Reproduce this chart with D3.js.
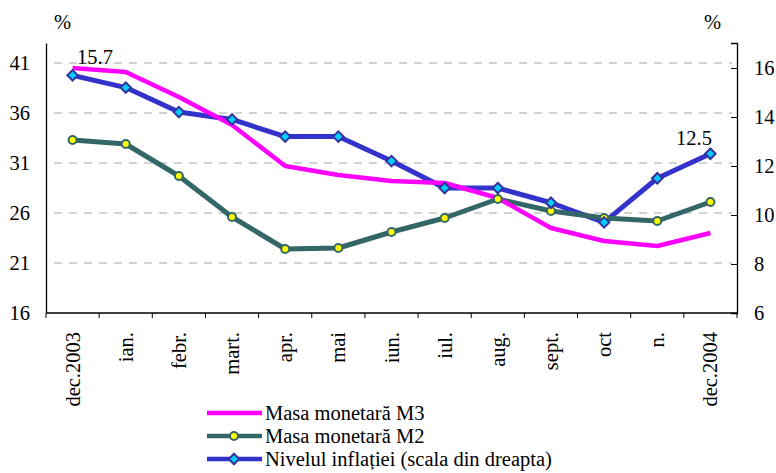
<!DOCTYPE html>
<html>
<head>
<meta charset="utf-8">
<script src="https://cdn.jsdelivr.net/npm/d3@7"></script>
<style>
  body { margin: 0; background: #fff; }
  text { font-family: "Liberation Serif", "Times New Roman", serif; fill: #000; }
</style>
</head>
<body>
<svg id="chart" width="776" height="473"></svg>
<script>
const months = ['dec.2003', 'ian.', 'febr.', 'mart.', 'apr.', 'mai', 'iun.', 'iul.', 'aug.', 'sept.', 'oct', 'n.', 'dec.2004'];
const m3 = [40.5, 40.1, 37.6, 34.8, 30.7, 29.8, 29.2, 29.0, 27.5, 24.5, 23.2, 22.7, 24.0];
const m2 = [33.3, 32.9, 29.7, 25.6, 22.4, 22.5, 24.1, 25.5, 27.4, 26.2, 25.5, 25.2, 27.1];
const inflation = [15.7, 15.2, 14.2, 13.9, 13.2, 13.2, 12.2, 11.1, 11.1, 10.5, 9.7, 11.5, 12.5];
const leftTicks = [16, 21, 26, 31, 36, 41];
const rightTicks = [6, 8, 10, 12, 14, 16];
const legendLabels = ['Masa monetară M3', 'Masa monetară M2', 'Nivelul inflației (scala din dreapta)'];

const svg = d3.select('#chart');
const plotLeft = 46, plotRight = 737, plotTop = 43, plotBottom = 313;
const fs = '20.5px';
const serif = '"Liberation Serif", "Times New Roman", serif';

const x = d3.scaleBand().domain(months).range([plotLeft, plotRight]);
const cx = d => x(d) + x.bandwidth() / 2;
const yL = d3.scaleLinear().domain([16, 43]).range([plotBottom, plotTop]);
const yR = d3.scaleLinear().domain([6, 17.02]).range([plotBottom, plotTop]);

// grid
svg.append('g')
  .selectAll('line')
  .data(leftTicks.filter(t => t > 16))
  .enter()
  .append('line')
  .attr('x1', plotLeft + 8).attr('x2', plotRight - 5)
  .attr('y1', d => yL(d)).attr('y2', d => yL(d))
  .attr('stroke', '#a6a6a6')
  .attr('stroke-width', 1)
  .attr('stroke-dasharray', '8,7');

// left axis
const axL = svg.append('g').attr('transform', `translate(${plotLeft},0)`)
  .call(d3.axisLeft(yL).tickValues(leftTicks).tickSize(0).tickPadding(16).tickFormat(d3.format('d')));
axL.select('.domain').attr('stroke', '#000').attr('stroke-width', 1.3);
axL.selectAll('text').style('font-size', fs).style('font-family', serif);

// right axis
const axR = svg.append('g').attr('transform', `translate(${plotRight},0)`)
  .call(d3.axisRight(yR).tickValues(rightTicks).tickSize(-6).tickPadding(17).tickFormat(d3.format('d')));
axR.select('.domain').attr('stroke', '#000').attr('stroke-width', 1.3);
axR.selectAll('line').attr('stroke', '#000');
axR.selectAll('text').style('font-size', fs).style('font-family', serif);

// bottom axis
const axB = svg.append('g').attr('transform', `translate(0,${plotBottom})`);
axB.append('line').attr('x1', plotLeft).attr('x2', plotRight).attr('stroke', '#000').attr('stroke-width', 1.3);
axB.selectAll('.tk')
  .data(months.concat(['end']))
  .enter()
  .append('line')
  .attr('class', 'tk')
  .attr('x1', (d, i) => plotLeft + i * x.step())
  .attr('x2', (d, i) => plotLeft + i * x.step())
  .attr('y1', 0).attr('y2', 5)
  .attr('stroke', '#000');
axB.selectAll('.lbl')
  .data(months)
  .enter()
  .append('text')
  .attr('class', 'lbl')
  .attr('transform', d => `translate(${cx(d) + 7},19) rotate(-90)`)
  .attr('text-anchor', 'end')
  .style('font-size', fs)
  .text(d => d);

// units
svg.append('text').attr('x', 54).attr('y', 29).style('font-size', fs).text('%');
svg.append('text').attr('x', 704).attr('y', 29).style('font-size', fs).text('%');

const lineL = d3.line().x((d, i) => cx(months[i])).y(d => yL(d));
const lineR = d3.line().x((d, i) => cx(months[i])).y(d => yR(d));

svg.append('path').datum(inflation).attr('d', lineR)
  .attr('fill', 'none').attr('stroke', '#3333cc').attr('stroke-width', 5).attr('stroke-linejoin', 'round');
svg.append('path').datum(m2).attr('d', lineL)
  .attr('fill', 'none').attr('stroke', '#336666').attr('stroke-width', 5).attr('stroke-linejoin', 'round');
svg.append('path').datum(m3).attr('d', lineL)
  .attr('fill', 'none').attr('stroke', '#ff00ff').attr('stroke-width', 4.5).attr('stroke-linejoin', 'round');

svg.append('g').selectAll('circle')
  .data(m2)
  .enter()
  .append('circle')
  .attr('cx', (d, i) => cx(months[i]))
  .attr('cy', d => yL(d))
  .attr('r', 4)
  .attr('fill', '#ffff00')
  .attr('stroke', '#336666')
  .attr('stroke-width', 2);

const diamond = d3.symbol().type(d3.symbolDiamond2).size(70);
svg.append('g').selectAll('path')
  .data(inflation)
  .enter()
  .append('path')
  .attr('d', diamond)
  .attr('transform', (d, i) => `translate(${cx(months[i])},${yR(d)})`)
  .attr('fill', '#00ccff')
  .attr('stroke', '#333399')
  .attr('stroke-width', 2);

// value labels
svg.append('text').attr('x', 77).attr('y', 64).style('font-size', fs).text(inflation[0].toFixed(1));
svg.append('text').attr('x', 676).attr('y', 145).style('font-size', fs).text(inflation[inflation.length - 1].toFixed(1));

// legend
const legend = svg.append('g').attr('transform', 'translate(207,413)');
const styles = [
  { color: '#ff00ff', mark: null },
  { color: '#336666', mark: 'circle' },
  { color: '#3333cc', mark: 'diamond' }
];
legendLabels.forEach((label, i) => {
  const g = legend.append('g').attr('transform', `translate(0,${i * 23})`);
  g.append('line').attr('x1', 0).attr('x2', 55).attr('stroke', styles[i].color).attr('stroke-width', 4.5);
  if (styles[i].mark === 'circle') {
    g.append('circle').attr('cx', 27).attr('r', 4).attr('fill', '#ffff00').attr('stroke', '#336666').attr('stroke-width', 2);
  } else if (styles[i].mark === 'diamond') {
    g.append('path').attr('d', diamond).attr('transform', 'translate(27,0)')
      .attr('fill', '#00ccff').attr('stroke', '#333399').attr('stroke-width', 2);
  }
  g.append('text').attr('x', 58).attr('y', 7).style('font-size', fs).text(label);
});
</script>
</body>
</html>
